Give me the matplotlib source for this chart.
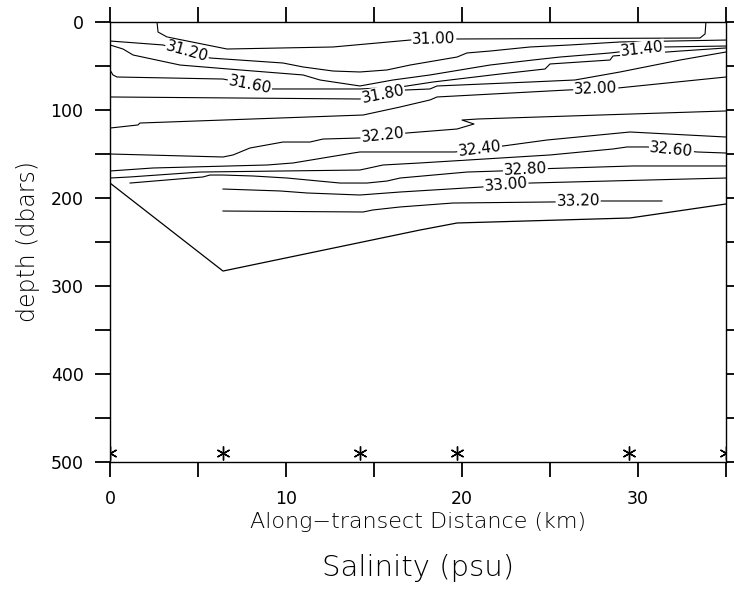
import numpy as np
import matplotlib
matplotlib.use('Agg')
import matplotlib.pyplot as plt
from matplotlib.ticker import MultipleLocator

plt.rcParams['font.family'] = ['DejaVu Sans']
plt.rcParams['axes.labelweight'] = 'light'

# ==== Isohalines (distance en km, profondeur en dbar) ====
lvl_3100_x = [2.67, 2.73, 3.24, 6.65, 12.67, 17.05, 19.72, 33.52, 33.81, 33.86]
lvl_3100_d = [0, 11.4, 17.0, 30.7, 28.4, 20.5, 19.3, 18.2, 13.6, 0]

lvl_3120_x = [0, 3.01, 5.68, 9.83, 10.97, 12.67, 14.2, 15.74, 17.05, 19.72, 20.28, 21.59, 23.86, 26.14, 28.98, 35]
lvl_3120_d = [21.6, 26.1, 40.9, 46.6, 51.1, 55.7, 56.8, 54.5, 48.9, 39.8, 35.2, 33.0, 28.4, 26.1, 22.7, 20.5]

lvl_3140_x = [0, 0.74, 1.31, 3.98, 7.39, 10.97, 11.93, 14.2, 16.08, 18.18, 21.59, 24.03, 25.57, 28.41, 31.42, 35]
lvl_3140_d = [26.1, 30.7, 37.5, 48.9, 54.5, 60.2, 65.9, 72.7, 65.9, 60.2, 48.9, 43.2, 39.8, 35.2, 28.4, 27.3]

lvl_3160_x = [0, 0.17, 0.40, 6.42, 9.26, 14.2, 16.48, 18.35, 22.16, 24.72, 25.0, 28.41, 28.58, 32.39, 35]
lvl_3160_d = [54.5, 60.2, 62.5, 64.8, 76.1, 76.1, 73.9, 68.2, 59.1, 53.4, 47.7, 43.2, 38.6, 33.0, 29.5]

lvl_3180_x = [0, 14.2, 16.76, 18.18, 18.58, 23.86, 26.42, 28.98, 32.39, 35]
lvl_3180_d = [85.2, 87.5, 77.3, 76.1, 72.7, 68.2, 65.9, 56.8, 43.2, 34.1]

lvl_3200_x = [0, 1.59, 1.70, 14.38, 16.48, 18.18, 18.58, 25.97, 28.86, 35]
lvl_3200_d = [120.5, 117.0, 114.8, 105.7, 96.6, 88.6, 85.2, 77.3, 75.0, 62.5]

lvl_3220_x = [0, 6.42, 6.99, 7.95, 9.83, 11.36, 12.10, 14.2, 16.88, 19.72, 20.68, 20.0, 20.91, 27.84, 35]
lvl_3220_d = [150, 153.4, 151.1, 143.2, 136.4, 136.4, 133.0, 131.8, 126.1, 121.6, 115.9, 111.4, 110.2, 105.7, 101.1]

lvl_3240_x = [0, 2.44, 8.92, 10.40, 13.81, 14.2, 19.6, 22.33, 24.83, 29.55, 35]
lvl_3240_d = [169.3, 165.9, 162.5, 160.2, 148.9, 147.7, 147.7, 140.9, 134.1, 125.0, 130.7]

lvl_3260_x = [0, 1.14, 5.11, 14.2, 15.51, 17.61, 25.0, 28.58, 29.38, 30.51, 33.35, 35]
lvl_3260_d = [177.3, 176.1, 170.5, 168.2, 162.5, 160.2, 151.1, 144.3, 142.0, 142.0, 147.7, 148.9]

lvl_3280_x = [1.14, 5.28, 5.68, 6.42, 8.13, 10.06, 13.07, 14.6, 15.74, 16.48, 20.28, 22.16, 25.0, 29.72, 35]
lvl_3280_d = [183.0, 176.1, 173.9, 173.9, 175.0, 177.3, 183.0, 183.0, 180.7, 177.3, 170.5, 169.3, 166.5, 163.6, 163.6]

lvl_3300_x = [6.42, 9.66, 11.19, 14.2, 16.48, 21.14, 23.86, 35]
lvl_3300_d = [189.8, 192.0, 194.3, 196.6, 193.2, 187.5, 183.0, 177.3]

lvl_3320_x = [6.42, 14.38, 14.94, 16.48, 19.49, 25.17, 27.95, 31.36]
lvl_3320_d = [214.8, 215.9, 213.6, 210.2, 205.7, 204.5, 203.4, 203.4]

niveaux = [31.0, 31.2, 31.4, 31.6, 31.8, 32.0, 32.2, 32.4, 32.6, 32.8, 33.0, 33.2]
lignes_x = [lvl_3100_x, lvl_3120_x, lvl_3140_x, lvl_3160_x, lvl_3180_x, lvl_3200_x,
            lvl_3220_x, lvl_3240_x, lvl_3260_x, lvl_3280_x, lvl_3300_x, lvl_3320_x]
lignes_d = [lvl_3100_d, lvl_3120_d, lvl_3140_d, lvl_3160_d, lvl_3180_d, lvl_3200_d,
            lvl_3220_d, lvl_3240_d, lvl_3260_d, lvl_3280_d, lvl_3300_d, lvl_3320_d]
# position (km) de l'étiquette sur chaque isohaline
label_x = [18.4, 4.375, 30.23, 7.95, 15.5, 27.6, 15.5, 21.0, 31.9, 23.6, 22.5, 26.6]

# fond
fond_x = [0, 6.42, 17.61, 19.72, 29.55, 35]
fond_d = [183.0, 283.0, 236.4, 228.4, 222.7, 206.8]

# stations CTD
stations_x = [0, 6.4, 14.2, 19.7, 29.5, 35.0]
stations_d = [490] * len(stations_x)

# ==== Figure ====
fig = plt.figure(figsize=(7.34, 5.9), dpi=100)
ax = fig.add_axes([110 / 734, 128 / 590, 616 / 734, 440 / 590])
ax.set_xlim(0, 35)
ax.set_ylim(500, 0)

for xs, ds in zip(lignes_x, lignes_d):
    ax.plot(xs, ds, color='black', lw=0.8)
ax.plot(fond_x, fond_d, color='black', lw=0.9)
ax.plot(stations_x, stations_d, ls='none', marker=(6, 2, 0), ms=10,
        mec='black', mew=1.0, color='black')


def label_ligne(xs, ds, xl, niv):
    """Etiquette alignée sur le segment qui contient xl."""
    for i in range(len(xs) - 1):
        if xs[i] <= xl <= xs[i + 1]:
            break
    f = (xl - xs[i]) / (xs[i + 1] - xs[i])
    dl = ds[i] + f * (ds[i + 1] - ds[i])
    p1, p2 = ax.transData.transform([(xs[i], ds[i]), (xs[i + 1], ds[i + 1])])
    ang = np.degrees(np.arctan2(p2[1] - p1[1], p2[0] - p1[0]))
    ax.text(xl, dl, f'{niv:.2f}', rotation=ang, rotation_mode='anchor',
            ha='center', va='center', fontsize=11, zorder=3, color='black',
            bbox=dict(fc='white', ec='none', pad=0.6))


for xs, ds, xl, niv in zip(lignes_x, lignes_d, label_x, niveaux):
    label_ligne(xs, ds, xl, niv)

ax.xaxis.set_major_locator(MultipleLocator(10))
ax.xaxis.set_minor_locator(MultipleLocator(5))
ax.yaxis.set_major_locator(MultipleLocator(100))
ax.yaxis.set_minor_locator(MultipleLocator(50))
ax.tick_params(which='both', direction='out', top=True, right=True,
               length=11, width=1.3, labelsize=12.5, labelcolor='black')
ax.tick_params(axis='x', pad=9)
ax.tick_params(axis='y', pad=8)
for s in ax.spines.values():
    s.set_linewidth(1.0)

ax.set_xlabel('Along\u2212transect Distance (km)', fontsize=16, color='black')
ax.xaxis.set_label_coords(0.5, -0.114)
ax.set_ylabel('depth (dbars)', fontsize=17, color='black')
ax.yaxis.set_label_coords(-0.113, 0.5)
fig.text(418 / 734, 22 / 590, 'Salinity (psu)', ha='center', va='center',
         fontsize=21, fontweight='light', color='black')

plt.savefig('out.png', dpi=100)
